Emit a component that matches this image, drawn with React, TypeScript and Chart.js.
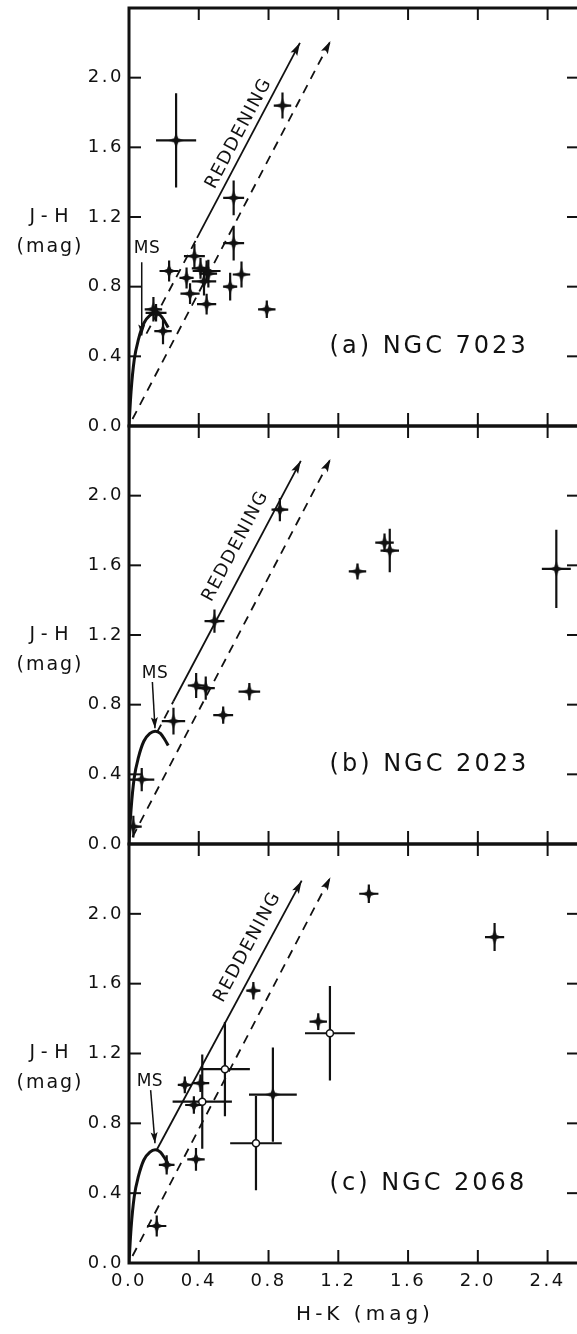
import React, { useEffect, useRef } from "react";
import { Chart, registerables } from "chart.js";
Chart.register(...registerables);

const INK = "#111111";
const FONT = '"DejaVu Sans", "Noto Sans", sans-serif';

// ---- axes ----
const X_TICKS = [0, 0.4, 0.8, 1.2, 1.6, 2.0, 2.4];
const Y_TICKS = [0, 0.4, 0.8, 1.2, 1.6, 2.0];
const X_MAX = 2.58;
const Y_MAX = 2.4;

// ---- main-sequence locus ----
const MS_HK = [0, 0.012, 0.03, 0.055, 0.085, 0.12, 0.15, 0.18, 0.205, 0.225];
const MS_JH = [0, 0.2, 0.38, 0.5, 0.59, 0.635, 0.648, 0.635, 0.6, 0.565];

// ---- reddening band, lower (dashed) ----
const LOW_HK = [0.02, 1.155];
const LOW_JH = [0.04, 2.21];

// ---- panel (a) NGC 7023 ----
const A_HK = [0.27, 0.88, 0.6, 0.6, 0.645, 0.58, 0.79, 0.23, 0.375, 0.33, 0.35, 0.41, 0.445, 0.43, 0.455, 0.445, 0.14, 0.155, 0.195];
const A_JH = [1.64, 1.84, 1.31, 1.05, 0.87, 0.8, 0.67, 0.89, 0.975, 0.85, 0.76, 0.905, 0.89, 0.83, 0.875, 0.7, 0.67, 0.65, 0.545];
const A_HK_ERR = [0.115, 0.05, 0.06, 0.06, 0.05, 0.04, 0.05, 0.055, 0.06, 0.04, 0.055, 0.05, 0.08, 0.07, 0.05, 0.055, 0.05, 0.06, 0.05];
const A_JH_ERR = [0.27, 0.075, 0.1, 0.1, 0.075, 0.08, 0.05, 0.06, 0.07, 0.06, 0.06, 0.06, 0.06, 0.08, 0.08, 0.06, 0.07, 0.05, 0.075];
const A_UPDASH_HK = [0.1, 0.39];
const A_UPDASH_JH = [0.53, 1.08];
const A_UP_HK = [0.39, 0.98];
const A_UP_JH = [1.08, 2.2];
const A_MSARROW_HK = [0.073, 0.073];
const A_MSARROW_JH = [0.94, 0.52];

// ---- panel (b) NGC 2023 ----
const B_HK = [0.865, 0.49, 0.385, 0.44, 0.54, 0.69, 0.255, 0.073, 0.025, 1.31, 1.465, 1.495, 2.45];
const B_JH = [1.92, 1.28, 0.91, 0.895, 0.74, 0.875, 0.705, 0.37, 0.1, 1.565, 1.73, 1.685, 1.58];
const B_HK_ERR = [0.048, 0.057, 0.048, 0.052, 0.057, 0.062, 0.067, 0.072, 0.048, 0.05, 0.053, 0.053, 0.083];
const B_JH_ERR = [0.067, 0.067, 0.072, 0.067, 0.05, 0.05, 0.077, 0.067, 0.062, 0.046, 0.053, 0.125, 0.225];
const B_UPDASH_HK = [0.16, 0.254];
const B_UPDASH_JH = [0.64, 0.818];
const B_UP_HK = [0.254, 0.985];
const B_UP_JH = [0.818, 2.2];
const B_MSARROW_HK = [0.134, 0.149];
const B_MSARROW_JH = [0.93, 0.665];

// ---- panel (c) NGC 2068 ----
const C_HK = [0.713, 0.32, 0.41, 0.372, 0.384, 0.159, 0.216, 0.825, 1.375, 2.096, 1.085];
const C_JH = [1.56, 1.02, 1.03, 0.905, 0.594, 0.212, 0.562, 0.965, 2.115, 1.867, 1.383];
const C_HK_ERR = [0.04, 0.04, 0.05, 0.05, 0.05, 0.055, 0.045, 0.137, 0.055, 0.055, 0.05];
const C_JH_ERR = [0.05, 0.048, 0.05, 0.05, 0.065, 0.06, 0.055, 0.27, 0.053, 0.08, 0.048];
const C_OPEN_HK = [0.42, 0.55, 0.728, 1.152];
const C_OPEN_JH = [0.924, 1.11, 0.686, 1.316];
const C_OPEN_HK_ERR = [0.17, 0.143, 0.148, 0.143];
const C_OPEN_JH_ERR = [0.27, 0.27, 0.27, 0.27];
const C_UP_HK = [0.16, 0.99];
const C_UP_JH = [0.65, 2.19];
const C_MSARROW_HK = [0.124, 0.149];
const C_MSARROW_JH = [0.99, 0.686];

const W = 600;
const PLOT_RIGHT = 579;
const Y_AXIS_W = 129;

const PANELS = [
  {
    label: "(a) NGC 7023",
    stars: [A_HK, A_JH, A_HK_ERR, A_JH_ERR],
    open: null as any,
    upDash: [A_UPDASH_HK, A_UPDASH_JH],
    up: [A_UP_HK, A_UP_JH],
    msArrow: [A_MSARROW_HK, A_MSARROW_JH],
    msAt: [0.103, 1.02],
    redAt: [0.63, 1.68],
    top: 0, height: 440, padTop: 8, padBottom: 14, xAxisH: 0, xLabels: false,
  },
  {
    label: "(b) NGC 2023",
    stars: [B_HK, B_JH, B_HK_ERR, B_JH_ERR],
    open: null as any,
    upDash: [B_UPDASH_HK, B_UPDASH_JH],
    up: [B_UP_HK, B_UP_JH],
    msArrow: [B_MSARROW_HK, B_MSARROW_JH],
    msAt: [0.149, 0.98],
    redAt: [0.612, 1.71],
    top: 420, height: 440, padTop: 6, padBottom: 16, xAxisH: 0, xLabels: false,
  },
  {
    label: "(c) NGC 2068",
    stars: [C_HK, C_JH, C_HK_ERR, C_JH_ERR],
    open: [C_OPEN_HK, C_OPEN_JH, C_OPEN_HK_ERR, C_OPEN_JH_ERR],
    upDash: null as any,
    up: [C_UP_HK, C_UP_JH],
    msArrow: [C_MSARROW_HK, C_MSARROW_JH],
    msAt: [0.12, 1.04],
    redAt: [0.68, 1.81],
    top: 838, height: 496, padTop: 6, padBottom: 0, xAxisH: 71, xLabels: true,
  },
];

const pts = (xs: number[], ys: number[]) => xs.map((x, i) => ({ x, y: ys[i] }));

function makeStar() {
  const c = document.createElement("canvas");
  const s = 16;
  c.width = s;
  c.height = s;
  const g = c.getContext("2d")!;
  g.fillStyle = INK;
  g.beginPath();
  for (let i = 0; i < 8; i++) {
    const a = -Math.PI / 2 + (i * Math.PI) / 4;
    const r = i % 2 === 0 ? 7.5 : 3.0;
    const X = s / 2 + r * Math.cos(a);
    const Y = s / 2 + r * Math.sin(a);
    if (i === 0) g.moveTo(X, Y);
    else g.lineTo(X, Y);
  }
  g.closePath();
  g.fill();
  return c;
}

const spacingPlugin = {
  id: "spacing",
  beforeDraw(chart: any) {
    (chart.ctx as any).letterSpacing = "2.5px";
  },
};

const errPlugin = {
  id: "errbars",
  beforeDatasetsDraw(chart: any) {
    const { ctx, chartArea, scales } = chart;
    const xs = scales.x, ys = scales.y;
    ctx.save();
    ctx.beginPath();
    ctx.rect(chartArea.left, chartArea.top, chartArea.right - chartArea.left, chartArea.bottom - chartArea.top);
    ctx.clip();
    ctx.strokeStyle = INK;
    ctx.lineWidth = 2.2;
    chart.data.datasets.forEach((ds: any) => {
      if (!ds.errX) return;
      ds.data.forEach((p: any, i: number) => {
        const ex = ds.errX[i], ey = ds.errY[i];
        const cx = xs.getPixelForValue(p.x), cy = ys.getPixelForValue(p.y);
        ctx.beginPath();
        ctx.moveTo(xs.getPixelForValue(p.x - ex), cy);
        ctx.lineTo(xs.getPixelForValue(p.x + ex), cy);
        ctx.moveTo(cx, ys.getPixelForValue(p.y - ey));
        ctx.lineTo(cx, ys.getPixelForValue(p.y + ey));
        ctx.stroke();
      });
    });
    ctx.restore();
  },
};

const arrowPlugin = {
  id: "arrows",
  afterDatasetsDraw(chart: any) {
    const { ctx } = chart;
    ctx.save();
    ctx.fillStyle = INK;
    chart.data.datasets.forEach((ds: any, i: number) => {
      if (!ds.arrowEnd) return;
      const els = chart.getDatasetMeta(i).data;
      const a = els[els.length - 2], b = els[els.length - 1];
      const ang = Math.atan2(b.y - a.y, b.x - a.x);
      const len = ds.arrowLen || 13, hw = ds.arrowHalf || 3.8;
      ctx.save();
      ctx.translate(b.x, b.y);
      ctx.rotate(ang);
      ctx.beginPath();
      ctx.moveTo(0, 0);
      ctx.lineTo(-len, -hw);
      ctx.lineTo(-len * 0.8, 0);
      ctx.lineTo(-len, hw);
      ctx.closePath();
      ctx.fill();
      ctx.restore();
    });
    ctx.restore();
  },
};

const framePlugin = {
  id: "frame",
  afterDraw(chart: any) {
    const { ctx, chartArea, scales } = chart;
    const { left, right, top, bottom } = chartArea;
    const line = (x1: number, y1: number, x2: number, y2: number) => {
      ctx.beginPath();
      ctx.moveTo(x1, y1);
      ctx.lineTo(x2, y2);
      ctx.stroke();
    };
    ctx.save();
    ctx.strokeStyle = INK;
    ctx.lineWidth = 2;
    X_TICKS.forEach((v) => {
      if (v <= 0) return;
      const p = scales.x.getPixelForValue(v);
      line(p, top, p, top + 12);
      line(p, bottom, p, bottom - 13);
    });
    Y_TICKS.forEach((v) => {
      if (v <= 0) return;
      const p = scales.y.getPixelForValue(v);
      line(left, p, left + 12, p);
      line(right, p, right - 12, p);
    });
    ctx.lineWidth = 3;
    ctx.strokeRect(left, top, right - left, bottom - top);
    ctx.restore();
  },
};

const annotPlugin = {
  id: "annot",
  afterDraw(chart: any, _args: any, opts: any) {
    const { ctx, chartArea, scales } = chart;
    const px = (v: number) => scales.x.getPixelForValue(v);
    const py = (v: number) => scales.y.getPixelForValue(v);
    ctx.save();
    ctx.fillStyle = INK;
    ctx.textBaseline = "middle";
    ctx.textAlign = "center";
    // y-axis title
    ctx.font = `19px ${FONT}`;
    ctx.letterSpacing = "6.5px";
    ctx.fillText("J-H", 49 + 3.2, py(1.2));
    ctx.letterSpacing = "2px";
    ctx.fillText("(mag)", 49 + 1, py(1.2) + 30);
    // panel label
    ctx.font = `24px ${FONT}`;
    ctx.letterSpacing = "3px";
    ctx.textAlign = "left";
    ctx.fillText(opts.label, px(1.15), py(0.455));
    // MS label
    ctx.font = `17px ${FONT}`;
    ctx.letterSpacing = "0.5px";
    ctx.textAlign = "center";
    ctx.fillText("MS", px(opts.msAt[0]), py(opts.msAt[1]));
    // REDDENING along the vector
    const [lx, ly] = opts.up;
    const ang = Math.atan2(py(ly[1]) - py(ly[0]), px(lx[1]) - px(lx[0]));
    ctx.save();
    ctx.translate(px(opts.redAt[0]), py(opts.redAt[1]));
    ctx.rotate(ang);
    ctx.font = `18px ${FONT}`;
    ctx.letterSpacing = "1.5px";
    ctx.fillText("REDDENING", 0, 0);
    ctx.restore();
    if (opts.xTitle) {
      ctx.font = `20px ${FONT}`;
      ctx.letterSpacing = "4px";
      ctx.fillText("H-K (mag)", chartArea.left + 236, chartArea.bottom + 52);
    }
    ctx.restore();
  },
};

function buildConfig(p: any, star: HTMLCanvasElement): any {
  const line = (d: any, extra: any = {}) => ({
    data: d,
    showLine: true,
    borderColor: INK,
    backgroundColor: INK,
    borderWidth: 1.8,
    pointRadius: 0,
    fill: false,
    ...extra,
  });
  const datasets: any[] = [
    line(pts(MS_HK, MS_JH), { label: "MS", borderWidth: 3, tension: 0.4, cubicInterpolationMode: "monotone" }),
    line(pts(LOW_HK, LOW_JH), { label: "reddening lower", borderDash: [9, 7], arrowEnd: true }),
    line(pts(p.up[0], p.up[1]), { label: "reddening", arrowEnd: true }),
  ];
  if (p.upDash) datasets.push(line(pts(p.upDash[0], p.upDash[1]), { label: "reddening dashed", borderDash: [9, 7] }));
  datasets.push(line(pts(p.msArrow[0], p.msArrow[1]), { label: "MS arrow", borderWidth: 1.5, arrowEnd: true, arrowLen: 11, arrowHalf: 3.5 }));
  datasets.push({
    label: "stars",
    data: pts(p.stars[0], p.stars[1]),
    errX: p.stars[2],
    errY: p.stars[3],
    showLine: false,
    pointStyle: star,
    pointRadius: 8,
  });
  if (p.open) {
    datasets.push({
      label: "open",
      data: pts(p.open[0], p.open[1]),
      errX: p.open[2],
      errY: p.open[3],
      showLine: false,
      pointStyle: "circle",
      pointRadius: 3.5,
      backgroundColor: "#ffffff",
      borderColor: INK,
      borderWidth: 1.5,
    });
  }
  const tickFont = { family: FONT, size: 18 };
  const noPad = (s: any) => {
    s.paddingTop = 0;
    s.paddingBottom = 0;
    s.paddingLeft = 0;
    s.paddingRight = 0;
  };
  return {
    type: "scatter",
    data: { datasets },
    plugins: [spacingPlugin, errPlugin, arrowPlugin, framePlugin, annotPlugin],
    options: {
      animation: false,
      responsive: false,
      devicePixelRatio: 1,
      events: [],
      layout: {
        autoPadding: false,
        padding: { top: p.padTop, bottom: p.padBottom, left: 0, right: W - PLOT_RIGHT },
      },
      plugins: {
        legend: { display: false },
        tooltip: { enabled: false },
        annot: { label: p.label, msAt: p.msAt, redAt: p.redAt, up: p.up, xTitle: p.xLabels },
      },
      scales: {
        x: {
          type: "linear",
          position: "bottom",
          min: 0,
          max: X_MAX,
          afterBuildTicks: (s: any) => {
            s.ticks = X_TICKS.map((v) => ({ value: v }));
          },
          afterFit: (s: any) => {
            s.height = p.xAxisH;
            noPad(s);
          },
          grid: { display: false, drawTicks: false },
          border: { display: false },
          ticks: {
            display: p.xLabels,
            color: INK,
            font: tickFont,
            padding: 8,
            maxRotation: 0,
            autoSkip: false,
            callback: (v: any) => Number(v).toFixed(1),
          },
        },
        y: {
          type: "linear",
          position: "left",
          min: 0,
          max: Y_MAX,
          afterBuildTicks: (s: any) => {
            s.ticks = Y_TICKS.map((v) => ({ value: v }));
          },
          afterFit: (s: any) => {
            s.width = Y_AXIS_W;
            noPad(s);
          },
          grid: { display: false, drawTicks: false },
          border: { display: false },
          ticks: {
            color: INK,
            font: tickFont,
            padding: 5,
            autoSkip: false,
            callback: (v: any) => Number(v).toFixed(1),
          },
        },
      },
    },
  };
}

function Panel({ p }: { p: any }) {
  const ref = useRef<HTMLCanvasElement>(null);
  useEffect(() => {
    const star = makeStar();
    const chart = new Chart(ref.current!, buildConfig(p, star));
    return () => chart.destroy();
  }, []);
  return (
    <canvas
      ref={ref}
      width={W}
      height={p.height}
      style={{ position: "absolute", left: 0, top: p.top, width: W, height: p.height }}
    />
  );
}

export default function App() {
  return (
    <div
      style={{
        position: "absolute",
        left: 0,
        top: 0,
        width: 577,
        height: 1334,
        overflow: "hidden",
        background: "#ffffff",
      }}
    >
      {PANELS.map((p, i) => (
        <Panel key={i} p={p} />
      ))}
    </div>
  );
}
